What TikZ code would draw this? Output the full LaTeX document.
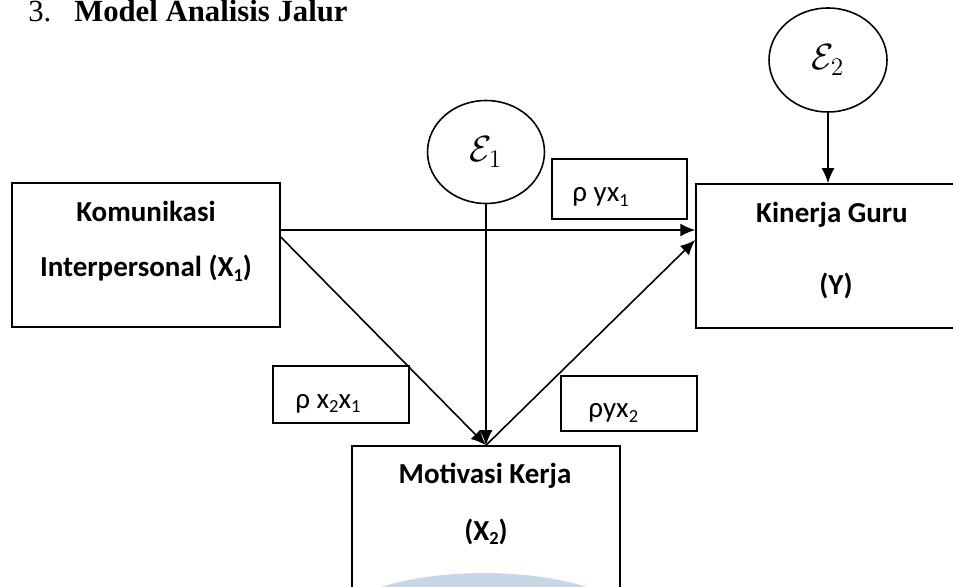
\documentclass[tikz,border=0pt]{standalone}
\usepackage{fontspec}
\setmainfont{Carlito}
\newfontfamily\titlefont{Liberation Serif}
\usetikzlibrary{arrows.meta,calc,shapes.geometric}
\newcommand{\lowsub}[1]{\raisebox{-0.35ex}{\fontsize{10.5}{11}\selectfont #1}}
\definecolor{wmblue}{RGB}{200,214,232}

\begin{document}
\begin{tikzpicture}[x=0.02cm,y=-0.02cm,
  varbox/.style={draw, line width=0.9pt, rectangle, inner sep=0pt},
  coefbox/.style={draw, line width=0.8pt, rectangle, inner sep=0pt},
  errnode/.style={draw, ellipse, line width=0.9pt, inner sep=0pt,
    font=\fontsize{20}{24}\selectfont},
  lab/.style={anchor=base, inner sep=0pt, font=\fontsize{16.5}{20}\selectfont\bfseries},
  coef/.style={anchor=base west, inner sep=0pt, font=\fontsize{16.5}{20}\selectfont},
  arr/.style={line width=0.9pt, -{Latex[length=0.3cm,width=0.26cm]}}]
\useasboundingbox (0,0) rectangle (953,587);
\clip (0,0) rectangle (953,587);

% faint blue mark at the foot of the page
\fill[wmblue] (484,633) ellipse [x radius=3.2cm, y radius=1.2cm];

% heading
\node[anchor=base west, inner sep=0pt, font=\titlefont\fontsize{17.5}{21}\selectfont]
  (title) at (28,22) {3.\hspace{13pt}\textbf{Model Analisis Jalur}};

% variables
\node[varbox, minimum width=5.36cm, minimum height=2.88cm] (x1) at (146,255) {};
\node[varbox, minimum width=6.2cm, minimum height=2.88cm] (y)  at (851,256) {};
\node[varbox, minimum width=5.36cm, minimum height=3.48cm] (m)  at (486,533) {};

\node[lab] (x1a) at (146,222) {Komunikasi};
\node[lab] (x1b) at (146,277) {Interpersonal (X\lowsub{1})};
\node[lab] (ya)  at (832,223) {Kinerja Guru};
\node[lab] (yb)  at (836,295) {(Y)};
\node[lab] (ma)  at (485,483) {Motivasi Kerja};
\node[lab] (mb)  at (486,540) {(X\lowsub{2})};

% residuals
\node[errnode, minimum width=2.34cm, minimum height=2.06cm] (e1) at (486,152) {$\mathcal{E}_1$};
\node[errnode, minimum width=2.36cm, minimum height=2.08cm] (e2) at (828,60) {$\mathcal{E}_2$};

% path coefficients
\node[coefbox, minimum width=2.70cm, minimum height=1.20cm] (c1) at (619.5,189) {};
\node[coefbox, minimum width=2.72cm, minimum height=1.14cm] (c2) at (341,394.5) {};
\node[coefbox, minimum width=2.72cm, minimum height=1.10cm] (c3) at (629,403.5) {};
\node[coef] (c1t) at (572,202) {ρ yx\lowsub{1}};
\node[coef] (c2t) at (295,408) {ρ x\lowsub{2}x\lowsub{1}};
\node[coef] (c3t) at (588,418) {ρyx\lowsub{2}};

% paths
\draw[arr] ([yshift=0.5cm]x1.east) -- ([yshift=0.52cm]y.west);
\draw[arr] ([yshift=0.36cm]x1.east) -- (m.north);
\draw[arr] (e1) -- (m.north);
\draw[arr] (m.north) -- ([yshift=0.32cm]y.west);
\draw[arr] (e2.south) -- (e2.south |- y.north);
\end{tikzpicture}
\end{document}
